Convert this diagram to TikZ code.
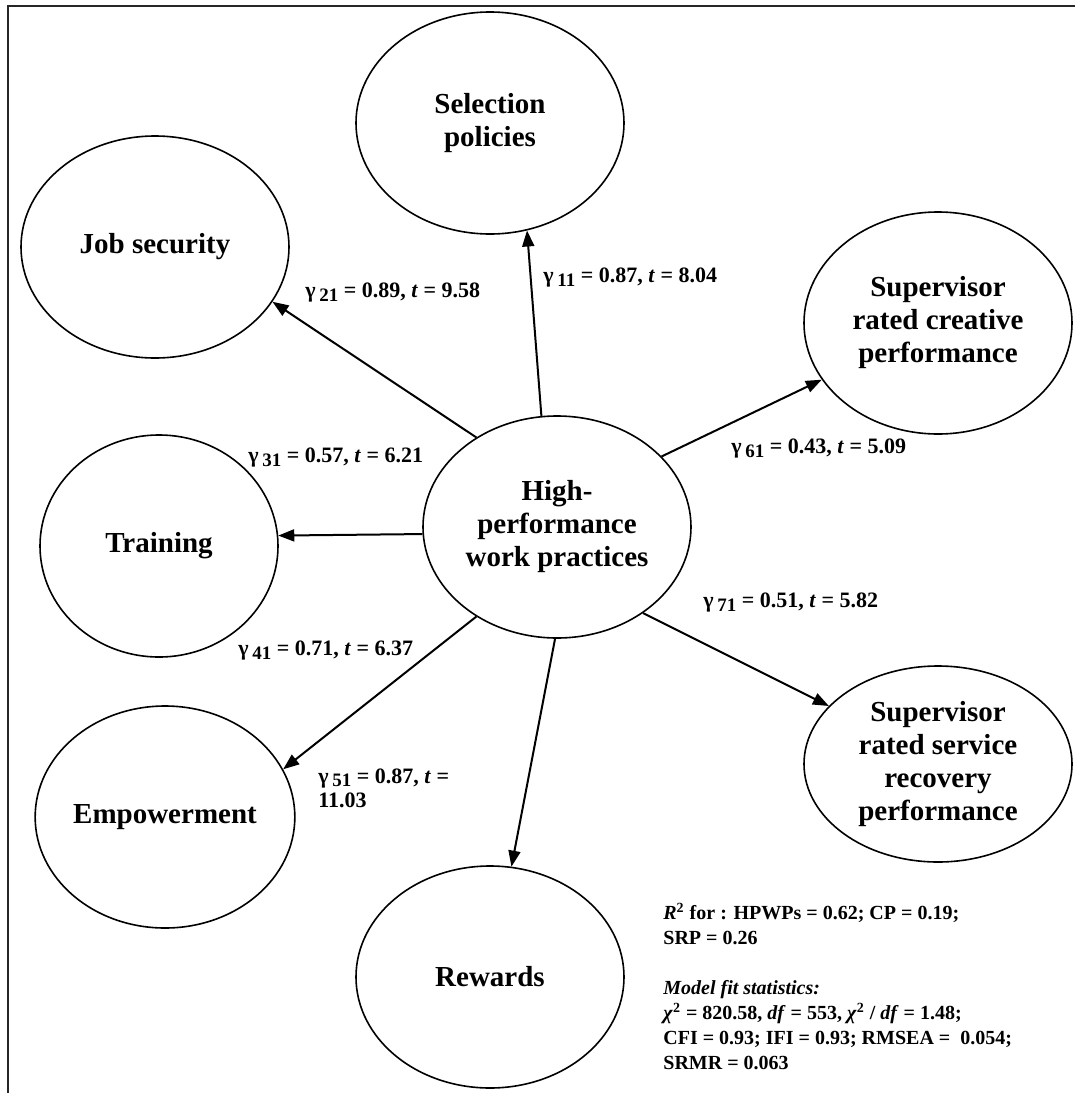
\documentclass[tikz,border=0pt]{standalone}
\usepackage{fontspec}
\setmainfont{Liberation Serif}
\usetikzlibrary{shapes.geometric, arrows.meta}

\newcommand{\gam}[1]{γ\,\raisebox{-0.3ex}{\fontsize{9.5}{9.5}\selectfont #1}}

\begin{document}
\begin{tikzpicture}[x=0.5pt, y=-0.5pt,
		construct/.style={draw, ellipse, line width=0.8pt, inner sep=0pt,
			minimum width=134pt, minimum height=111pt, align=center,
			font=\fontsize{14.5}{16.5}\selectfont\bfseries},
		effect/.style={-{Triangle[length=8pt, width=6pt]}, line width=1pt},
		coef/.style={anchor=west, inner sep=0pt, font=\fontsize{11}{12}\selectfont\bfseries},
		stats/.style={anchor=north west, inner sep=0pt, align=left,
			font=\fontsize{10}{12.5}\selectfont\bfseries}]
	\useasboundingbox (0, 0) rectangle (1075, 1093);
	\draw[line width=1pt, black!85]	(1075, 6) -- (8, 6) -- (8, 1093);

	\node[construct]	(sel) at (490, 123) {Selection\\policies};
	\node[construct]	(job) at (155, 247) {Job security};
	\node[construct]	(cre) at (938, 323) {Supervisor\\rated creative\\performance};
	\node[construct, minimum width=119pt]	(tra) at (159, 546) {Training};
	\node[construct]	(hpw) at (557, 527) {High-\\performance\\work practices};
	\node[construct, minimum width=124.5pt]	(emp) at (165, 817) {Empowerment};
	\node[construct, minimum height=98pt]	(srv) at (938, 764) {Supervisor\\rated service\\recovery\\performance};
	\node[construct]	(rew) at (490, 977) {Rewards};

	\draw[effect]	(hpw.98) -- (sel.-71);
	\draw[effect]	(hpw.132.7) -- (job.-25);
	\draw[effect]	(hpw.183.5) -- (tra.5.5);
	\draw[effect]	(hpw.228) -- (emp.22);
	\draw[effect]	(hpw.269.5) -- (rew.79);
	\draw[effect]	(hpw.34) -- (cre.206);
	\draw[effect]	(hpw.315.5) -- (srv.152.7);

	\node[coef]	(g11) at (543, 278) {\gam{11} = 0.87, \textit{t} = 8.04};
	\node[coef]	(g21) at (305, 293) {\gam{21} = 0.89, \textit{t} = 9.58};
	\node[coef]	(g31) at (248, 458) {\gam{31} = 0.57, \textit{t} = 6.21};
	\node[coef]	(g41) at (238, 651) {\gam{41} = 0.71, \textit{t} = 6.37};
	\node[coef, align=left]	(g51) at (318, 788) {\gam{51} = 0.87, \textit{t} =\\11.03};
	\node[coef]	(g61) at (731, 449) {\gam{61} = 0.43, \textit{t} = 5.09};
	\node[coef]	(g71) at (703, 603) {\gam{71} = 0.51, \textit{t} = 5.82};

	\node[stats]	(fit) at (663, 903) {\textit{R}\textsuperscript{2} for : HPWPs = 0.62; CP = 0.19;\\
		SRP = 0.26\\[12.5pt]
		\textit{Model fit statistics:}\\
		\textit{χ}\textsuperscript{2} = 820.58, \textit{df} = 553, \textit{χ}\textsuperscript{2} / \textit{df} = 1.48;\\
		CFI = 0.93; IFI = 0.93; RMSEA = \ 0.054;\\
		SRMR = 0.063};
\end{tikzpicture}
\end{document}
